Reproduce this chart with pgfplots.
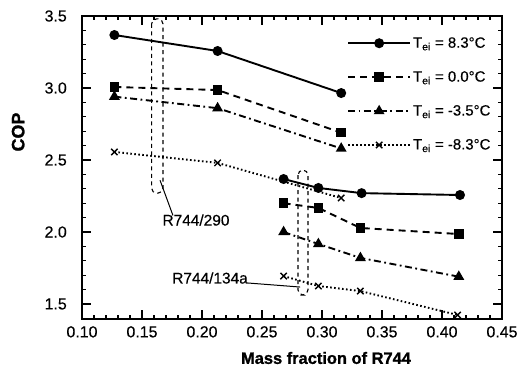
\documentclass[border=0pt]{standalone}
\usepackage{fontspec}
\setmainfont{Liberation Sans}[BoldFeatures={FakeBold=1.2}]
\newfontfamily\tickfont{Liberation Sans}[FakeBold=0.4]
\usepackage{pgfplots}
\pgfplotsset{compat=1.18}
\begin{document}
\begin{tikzpicture}
\useasboundingbox (-82bp,-52bp) rectangle (445bp,319bp);
\begin{axis}[
  at={(0,0)}, anchor=south west,
  scale only axis, width=420bp, height=303bp,
  xmin=0.10, xmax=0.45, ymin=1.396, ymax=3.5,
  xtick={0.10,0.15,0.20,0.25,0.30,0.35,0.40,0.45},
  ytick={1.5,2.0,2.5,3.0,3.5},
  minor x tick num=4, minor y tick num=4,
  tick align=inside, major tick length=9bp, minor tick length=4.5bp,
  tick style={line width=1.1bp, black},
  axis line style={line width=1.4bp},
  /pgf/number format/assume math mode=true,
  x tick label style={font=\tickfont\fontsize{16}{19}\selectfont, yshift=-3.7bp,
    /pgf/number format/.cd, fixed, fixed zerofill, precision=2},
  y tick label style={font=\tickfont\fontsize{16}{19}\selectfont, xshift=-11.7bp,
    /pgf/number format/.cd, fixed, fixed zerofill, precision=1},
  xlabel={Mass fraction of R744},
  x label style={at={(axis description cs:0.581,0)}, anchor=center, yshift=-39bp,
    font=\bfseries\fontsize{16.5}{19}\selectfont},
  ylabel={COP},
  y label style={at={(axis description cs:-0.152,0.617)}, anchor=center,
    font=\bfseries\fontsize{18}{20}\selectfont},
  legend style={at={(rel axis cs:0.631,0.937)}, anchor=north west, draw=none, fill=none,
    inner sep=0pt, row sep=18bp, font=\tickfont\fontsize{15}{18}\selectfont},
  legend cell align=left,
  legend image code/.code={\draw[mark repeat=2,mark phase=2,#1] plot coordinates {(0bp,0bp) (31bp,0bp) (62bp,0bp)};},
  clip=false,
]
\pgfplotsset{
  c83/.style={black, line width=1.9bp, solid, mark=*, mark size=4bp, mark options={solid}},
  c00/.style={black, line width=1.9bp, dash pattern=on 7bp off 5bp, mark=square*, mark size=3.9bp, mark options={solid}},
  c35/.style={black, line width=1.9bp, dash pattern=on 7bp off 3.5bp on 1.8bp off 3.5bp, mark=triangle*, mark size=4.4bp, mark options={solid}},
  c83m/.style={black, line width=1.9bp, dash pattern=on 1.6bp off 2.4bp, mark=x, mark size=4.5bp, mark options={solid, line width=1.4bp}},
}
% upper group (R744/290)
\addplot[c83] coordinates {(0.127,3.368) (0.213,3.257) (0.316,2.965)};
\addlegendentry{T\textsubscript{ei} = 8.3°C}
\addplot[c00] coordinates {(0.127,3.007) (0.213,2.986) (0.316,2.690)};
\addlegendentry{T\textsubscript{ei} = 0.0°C}
\addplot[c35] coordinates {(0.127,2.940) (0.213,2.860) (0.316,2.580)};
\addlegendentry{T\textsubscript{ei} = -3.5°C}
\addplot[c83m] coordinates {(0.127,2.556) (0.213,2.480) (0.316,2.236)};
\addlegendentry{T\textsubscript{ei} = -8.3°C}
% lower group (R744/134a)
\addplot[c83, forget plot] coordinates {(0.268,2.368) (0.297,2.306) (0.333,2.270) (0.415,2.257)};
\addplot[c00, forget plot] coordinates {(0.268,2.200) (0.297,2.167) (0.332,2.028) (0.414,1.986)};
\addplot[c35, forget plot] coordinates {(0.268,2.000) (0.297,1.917) (0.332,1.820) (0.414,1.690)};
\addplot[c83m, forget plot] coordinates {(0.268,1.694) (0.297,1.625) (0.332,1.590) (0.413,1.424)};
% annotations
\draw[black, line width=1.1bp, dash pattern=on 4bp off 3.5bp, rounded corners=5bp]
  (axis cs:0.158,3.48) rectangle (axis cs:0.1675,2.27);
\draw[black, line width=1bp] (axis cs:0.165,2.36) -- (axis cs:0.1758,2.115);
\node[font=\tickfont\fontsize{15.5}{18}\selectfont] at (axis cs:0.195,2.083) {R744/290};
\draw[black, line width=1.1bp, dash pattern=on 4bp off 3.5bp, rounded corners=5bp]
  (axis cs:0.280,2.43) rectangle (axis cs:0.2883,1.563);
\draw[black, line width=1bp] (axis cs:0.2383,1.646) -- (axis cs:0.2817,1.618);
\node[font=\tickfont\fontsize{15.5}{18}\selectfont] at (axis cs:0.2067,1.681) {R744/134a};
\end{axis}
\end{tikzpicture}
\end{document}
